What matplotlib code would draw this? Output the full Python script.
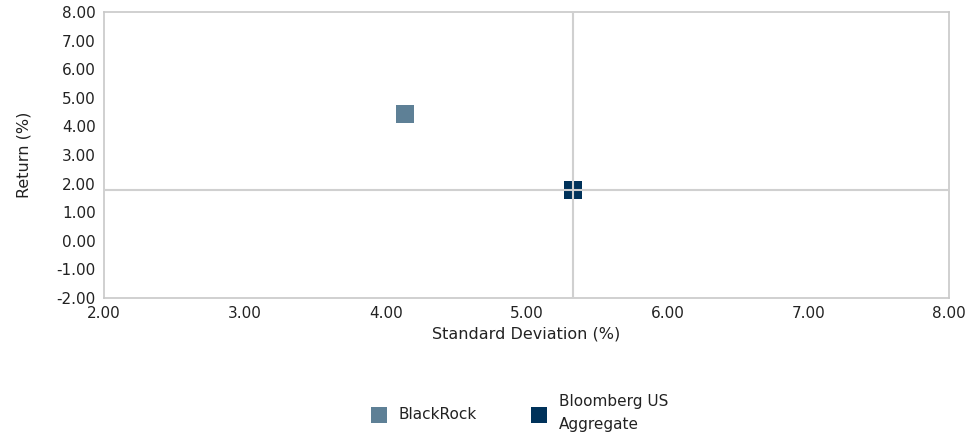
import matplotlib
matplotlib.use('Agg')
import matplotlib.pyplot as plt

names = ['BlackRock', 'Bloomberg US\nAggregate']
std_dev = [4.14, 5.33]
returns = [4.45, 1.76]
colors = ['#5e8096', '#00325a']

plt.rcParams['font.family'] = ['DejaVu Sans']

fig = plt.figure(figsize=(9.72, 4.41), dpi=100)
ax = fig.add_axes([104/972, 1-298/441, 845/972, 286/441])

for n, x, y, c in zip(names, std_dev, returns, colors):
    ax.scatter([x], [y], marker='s', s=150, color=c, label=n, zorder=2, linewidths=0)

# benchmark crosshair
ax.axvline(std_dev[1], color='#d0d0d0', lw=1.5, zorder=3)
ax.axhline(returns[1], color='#d0d0d0', lw=1.5, zorder=3)

ax.set_xlim(2, 8)
ax.set_ylim(-2, 8)
ax.set_xticks([2, 3, 4, 5, 6, 7, 8])
ax.set_yticks(list(range(-2, 9)))
ax.set_xticklabels(['%.2f' % v for v in ax.get_xticks()])
ax.set_yticklabels(['%.2f' % v for v in ax.get_yticks()])
ax.tick_params(length=0, labelsize=11, colors='#222222', pad=6)
for s in ax.spines.values():
    s.set_color('#c8c8c8')
    s.set_linewidth(1.2)
ax.set_xlabel('Standard Deviation (%)', fontsize=11.5, color='#222222', labelpad=4)
ax.set_ylabel('Return (%)', fontsize=11.5, color='#222222', labelpad=18)

leg = fig.legend(loc='center', bbox_to_anchor=(516/972, 1-413/441), ncol=2, frameon=False,
                 fontsize=11, handletextpad=0.3, columnspacing=3.1, markerscale=0.9)
for t in leg.get_texts():
    t.set_linespacing(1.6)
    t.set_color('#222222')

fig.savefig('out.png', dpi=100)
